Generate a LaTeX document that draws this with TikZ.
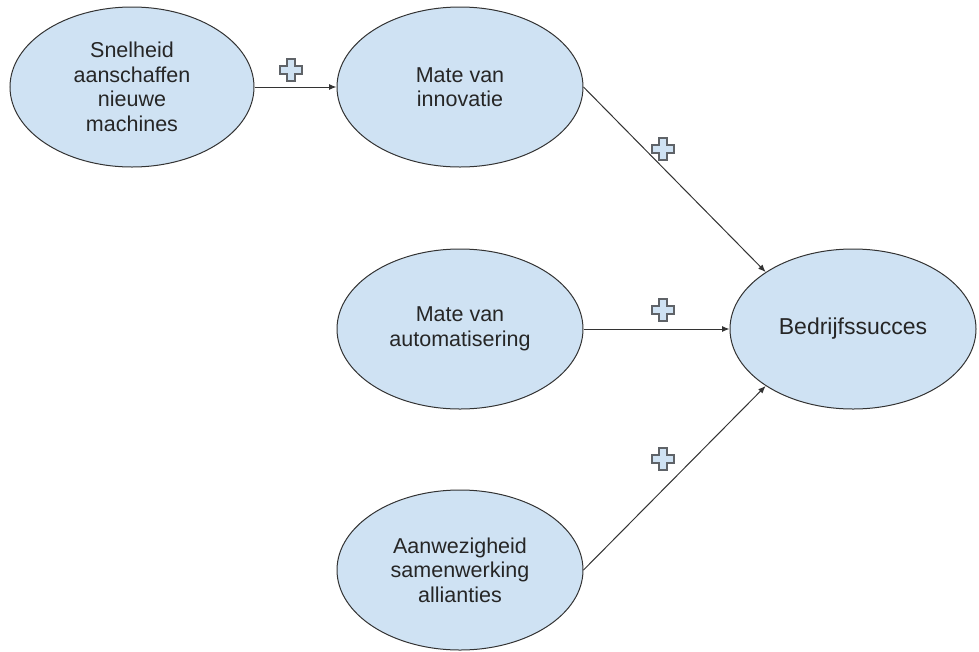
\documentclass[tikz,border=0pt]{standalone}
\usepackage{fontspec}
\setmainfont{Liberation Sans}
\usetikzlibrary{shapes.geometric,arrows.meta}
\definecolor{ellfill}{HTML}{CFE2F3}
\definecolor{ellline}{HTML}{333333}
\definecolor{plusline}{HTML}{5F6368}
\definecolor{txt}{HTML}{262626}
\tikzset{
  oval/.style={ellipse, draw=ellline, fill=ellfill, line width=1pt,
    minimum width=246pt, minimum height=160pt, inner sep=0pt,
    align=center, text=txt, font=\fontsize{21.5}{24.5}\selectfont},
  conn/.style={draw=ellline, line width=1pt, -{Latex[length=7.5pt,width=6pt]}},
  plussign/.pic={
    \draw[draw=plusline, fill=ellfill, line width=1.9pt, line join=miter]
      (-3.8,-11) -- (3.8,-11) -- (3.8,-3.8) -- (11,-3.8) -- (11,3.8)
      -- (3.8,3.8) -- (3.8,11) -- (-3.8,11) -- (-3.8,3.8) -- (-11,3.8)
      -- (-11,-3.8) -- (-3.8,-3.8) -- cycle;
  }
}
\begin{document}
\begin{tikzpicture}[x=1pt,y=-1pt]
\useasboundingbox (0,0) rectangle (979,651);
\node[oval, minimum width=244pt] (snel) at (132,87) {Snelheid\\aanschaffen\\nieuwe\\machines};
\node[oval] (innov) at (460,87) {Mate van\\innovatie};
\node[oval] (auto) at (460,329) {Mate van\\automatisering};
\node[oval] (allian) at (460,570) {Aanwezigheid\\samenwerking\\allianties};
\node[oval, font=\fontsize{23}{26}\selectfont] (succes) at (853,329) {Bedrijfssucces};

\draw[conn] (snel.east) -- (innov.west);
\draw[conn] (innov.east) -- (succes.north west);
\draw[conn] (auto.east) -- (succes.west);
\draw[conn] (allian.east) -- (succes.south west);

\pic at (291,70) {plussign};
\pic at (663,149) {plussign};
\pic at (663,310) {plussign};
\pic at (663,459) {plussign};
\end{tikzpicture}
\end{document}
